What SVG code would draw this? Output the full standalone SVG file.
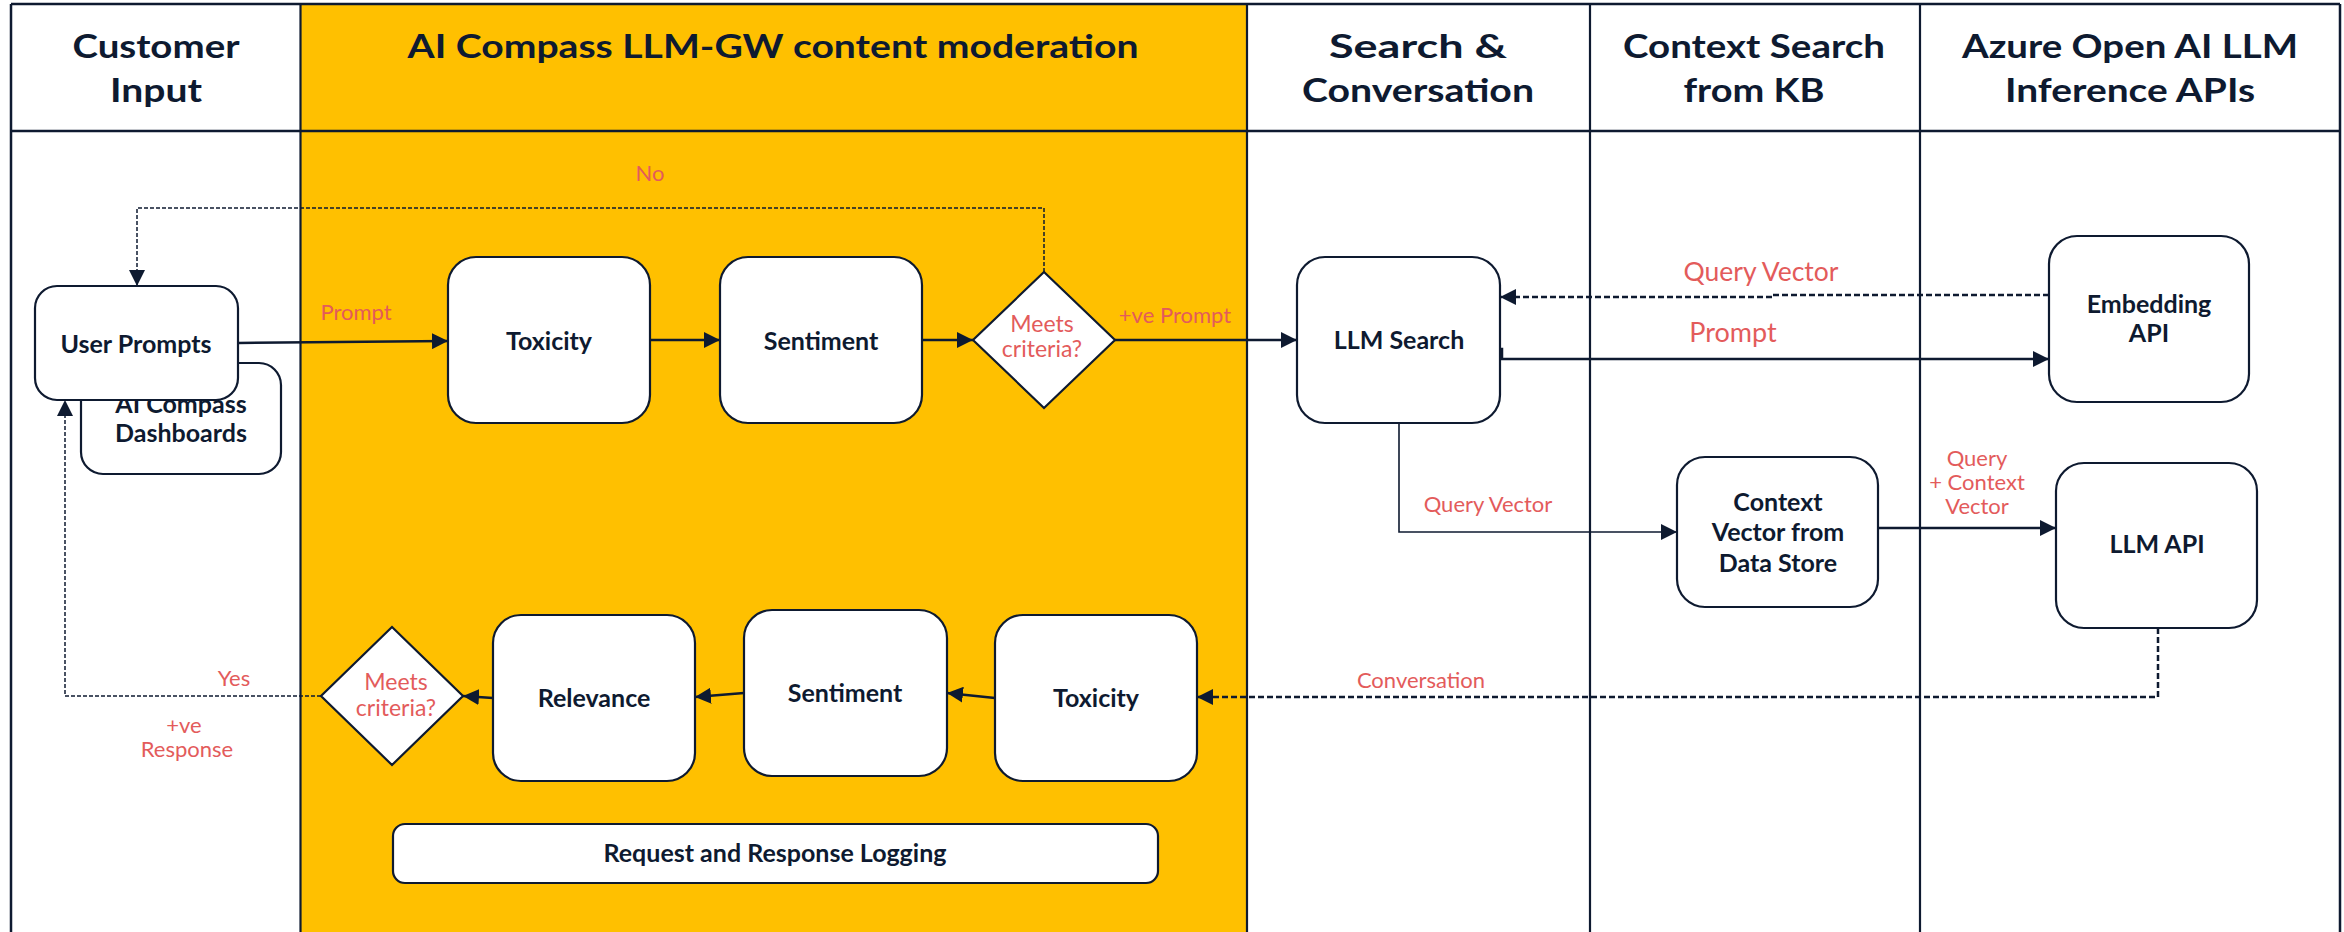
<svg xmlns="http://www.w3.org/2000/svg" width="2344" height="932" viewBox="0 0 2344 932">
<style>
.frame{stroke:#0E1A30;stroke-width:2.5;fill:none}
.col{stroke:#0E1A30;stroke-width:2.2;fill:none}
.node{fill:#FFFFFF;stroke:#0E1A30;stroke-width:2.2}
.hd{font-family:Lato,"Liberation Sans",sans-serif;font-weight:700;font-size:33px;fill:#0E1A30;text-anchor:middle}
.nt{font-family:Lato,"Liberation Sans",sans-serif;font-weight:700;font-size:25px;fill:#0E1A30;text-anchor:middle}
.lb{font-family:Lato,"Liberation Sans",sans-serif;font-weight:400;font-size:22px;fill:#E35B5B;text-anchor:middle}
.solid{stroke:#0E1A30;stroke-width:2.5;fill:none}
.thin{stroke:#0E1A30;stroke-width:1.6;fill:none}
.dash{stroke:#0E1A30;stroke-width:2.5;fill:none;stroke-dasharray:6 3}
.dashthin{stroke:#0E1A30;stroke-width:1.5;fill:none;stroke-dasharray:4 2}
</style>
<defs>
<marker id="ah" markerUnits="userSpaceOnUse" markerWidth="17" markerHeight="16" refX="16" refY="8" orient="auto">
<path d="M0,0 L16,8 L0,16 z" fill="#0E1A30"/>
</marker>
</defs>
<rect x="0" y="0" width="2344" height="932" fill="#FFFFFF"/>
<g id="lanes">
<rect x="301" y="5" width="946" height="927" fill="#FFC000"/>
<line class="frame" x1="11" y1="4" x2="2340" y2="4"/>
<line class="frame" x1="11" y1="4" x2="11" y2="932"/>
<line class="frame" x1="2340" y1="4" x2="2340" y2="932"/>
<line class="frame" x1="11" y1="131" x2="2340" y2="131"/>
<line class="col" x1="300.5" y1="4" x2="300.5" y2="932"/>
<line class="col" x1="1247" y1="4" x2="1247" y2="932"/>
<line class="col" x1="1590" y1="4" x2="1590" y2="932"/>
<line class="col" x1="1920" y1="4" x2="1920" y2="932"/>
<text class="hd" x="156" y="58" textLength="167" lengthAdjust="spacingAndGlyphs">Customer</text>
<text class="hd" x="156" y="102" textLength="92" lengthAdjust="spacingAndGlyphs">Input</text>
<text class="hd" x="773" y="58" textLength="731" lengthAdjust="spacingAndGlyphs">AI Compass LLM-GW content moderation</text>
<text class="hd" x="1418" y="58" textLength="178" lengthAdjust="spacingAndGlyphs">Search &amp;</text>
<text class="hd" x="1418" y="102" textLength="232" lengthAdjust="spacingAndGlyphs">Conversation</text>
<text class="hd" x="1754" y="58" textLength="262" lengthAdjust="spacingAndGlyphs">Context Search</text>
<text class="hd" x="1754" y="102" textLength="141" lengthAdjust="spacingAndGlyphs">from KB</text>
<text class="hd" x="2130" y="58" textLength="336" lengthAdjust="spacingAndGlyphs">Azure Open AI LLM</text>
<text class="hd" x="2130" y="102" textLength="250" lengthAdjust="spacingAndGlyphs">Inference APIs</text>
</g>
<g id="connectors">
<path class="solid" d="M238,343 L448,341" marker-end="url(#ah)"/>
<path class="solid" d="M650,340 L720,340" marker-end="url(#ah)"/>
<path class="solid" d="M922,340 L973,340" marker-end="url(#ah)"/>
<path class="solid" d="M1115,340 L1297,340" marker-end="url(#ah)"/>
<path class="dashthin" d="M1044,272 V208 H137 V286" marker-end="url(#ah)"/>
<path class="solid" d="M1500,349 H1502 V359 H2049" marker-end="url(#ah)"/>
<path class="dash" d="M2049,295 H1772 V297 H1500" marker-end="url(#ah)"/>
<path class="thin" d="M1399,423 V532 H1677" marker-end="url(#ah)"/>
<path class="solid" d="M1878,528 H2056" marker-end="url(#ah)"/>
<path class="dash" d="M2158,628 V697 H1197" marker-end="url(#ah)"/>
<path class="solid" d="M995,698 L947,693" marker-end="url(#ah)"/>
<path class="solid" d="M744,693 L695,697" marker-end="url(#ah)"/>
<path class="solid" d="M493,698 L463,696" marker-end="url(#ah)"/>
<path class="dashthin" d="M321,696 H65 V400" marker-end="url(#ah)"/>
<text class="lb" x="356" y="320">Prompt</text>
<text class="lb" x="1175" y="323">+ve Prompt</text>
<text class="lb" x="650" y="181">No</text>
<text class="lb" x="1733" y="342" style="font-size:27px">Prompt</text>
<text class="lb" x="1761" y="281" style="font-size:26.5px">Query Vector</text>
<text class="lb" x="1488" y="512">Query Vector</text>
<text class="lb" x="1977" y="466">Query</text>
<text class="lb" x="1977" y="490">+ Context</text>
<text class="lb" x="1977" y="514">Vector</text>
<text class="lb" x="1421" y="688">Conversation</text>
<text class="lb" x="234" y="686">Yes</text>
<text class="lb" x="184" y="733">+ve</text>
<text class="lb" x="187" y="757">Response</text>
</g>
<g id="dashboards">
<rect class="node" x="81" y="363" width="200" height="111" rx="22"/>
<text class="nt" x="181" y="413">AI Compass</text>
<text class="nt" x="181" y="442">Dashboards</text>
</g>
<g id="user-prompts">
<rect class="node" x="35" y="286" width="203" height="114" rx="22"/>
<text class="nt" x="136" y="353">User Prompts</text>
</g>
<g id="toxicity-in">
<rect class="node" x="448" y="257" width="202" height="166" rx="28"/>
<text class="nt" x="549" y="350">Toxicity</text>
</g>
<g id="sentiment-in">
<rect class="node" x="720" y="257" width="202" height="166" rx="28"/>
<text class="nt" x="821" y="350">Sentiment</text>
</g>
<g id="criteria-in">
<polygon class="node" points="1044,272 1115,340 1044,408 973,340"/>
<text class="lb" x="1042" y="332" style="font-size:23px">Meets</text>
<text class="lb" x="1042" y="357" style="font-size:23px">criteria?</text>
</g>
<g id="llm-search">
<rect class="node" x="1297" y="257" width="203" height="166" rx="28"/>
<text class="nt" x="1399" y="349">LLM Search</text>
</g>
<g id="embedding-api">
<rect class="node" x="2049" y="236" width="200" height="166" rx="28"/>
<text class="nt" x="2149" y="313">Embedding</text>
<text class="nt" x="2149" y="342">API</text>
</g>
<g id="context-vector">
<rect class="node" x="1677" y="457" width="201" height="150" rx="28"/>
<text class="nt" x="1778" y="511">Context</text>
<text class="nt" x="1778" y="541">Vector from</text>
<text class="nt" x="1778" y="572">Data Store</text>
</g>
<g id="llm-api">
<rect class="node" x="2056" y="463" width="201" height="165" rx="28"/>
<text class="nt" x="2157" y="553">LLM API</text>
</g>
<g id="toxicity-out">
<rect class="node" x="995" y="615" width="202" height="166" rx="28"/>
<text class="nt" x="1096" y="707">Toxicity</text>
</g>
<g id="sentiment-out">
<rect class="node" x="744" y="610" width="203" height="166" rx="28"/>
<text class="nt" x="845" y="702">Sentiment</text>
</g>
<g id="relevance">
<rect class="node" x="493" y="615" width="202" height="166" rx="28"/>
<text class="nt" x="594" y="707">Relevance</text>
</g>
<g id="criteria-out">
<polygon class="node" points="392,627 463,696 392,765 321,696"/>
<text class="lb" x="396" y="690" style="font-size:23px">Meets</text>
<text class="lb" x="396" y="716" style="font-size:23px">criteria?</text>
</g>
<g id="logging">
<rect class="node" x="393" y="824" width="765" height="59" rx="12"/>
<text class="nt" x="775" y="862">Request and Response Logging</text>
</g>
</svg>
